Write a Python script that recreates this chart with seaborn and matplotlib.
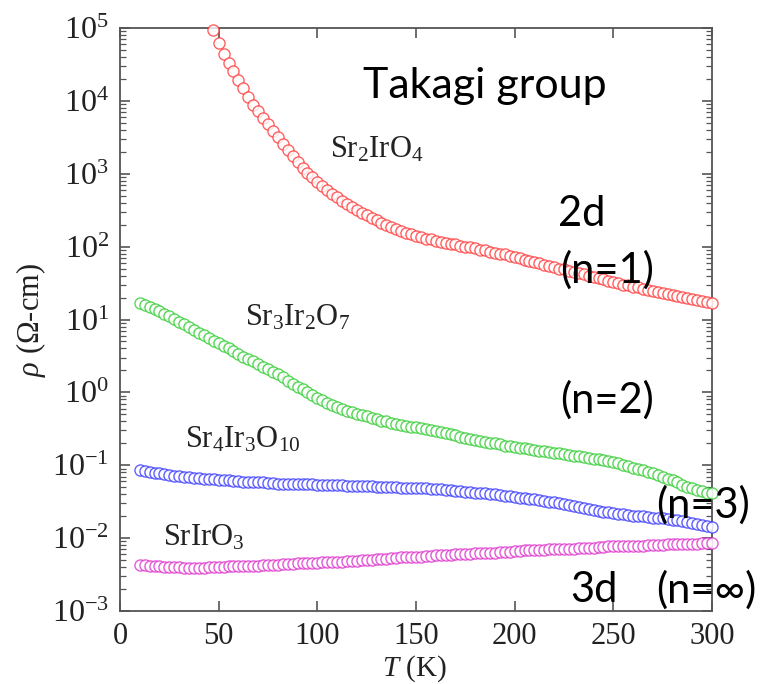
import matplotlib
matplotlib.use("Agg")
import matplotlib.pyplot as plt
import matplotlib.ticker as mticker
import seaborn as sns
import pandas as pd

# ---------------- data ----------------
T_red = [47,
         50, 52.5, 55, 57.5, 60, 62.5, 65, 67.5, 70, 72.5,
         75, 77.5, 80, 82.5, 85, 87.5, 90, 92.5, 95, 97.5,
         100, 102.5, 105, 107.5, 110, 112.5, 115, 117.5, 120, 122.5,
         125, 127.5, 130, 132.5, 135, 137.5, 140, 142.5, 145, 147.5,
         150, 152.5, 155, 157.5, 160, 162.5, 165, 167.5, 170, 172.5,
         175, 177.5, 180, 182.5, 185, 187.5, 190, 192.5, 195, 197.5,
         200, 202.5, 205, 207.5, 210, 212.5, 215, 217.5, 220, 222.5,
         225, 227.5, 230, 232.5, 235, 237.5, 240, 242.5, 245, 247.5,
         250, 252.5, 255, 257.5, 260, 262.5, 265, 267.5, 270, 272.5,
         275, 277.5, 280, 282.5, 285, 287.5, 290, 292.5, 295, 297.5,
         300]
rho_Sr2IrO4 = [9.3e4,
               6.2e4, 4.4e4, 3.3e4, 2.6e4, 1.95e4, 1.48e4, 1.12e4, 8.9e3, 7.2e3, 5.9e3,
               4.8e3, 3.9e3, 3.2e3, 2.57e3, 2.1e3, 1.74e3, 1.45e3, 1.2e3, 1.02e3, 890,
               780, 675, 590, 525, 480, 427, 390, 347, 316, 288,
               270, 245, 229, 214, 200, 186, 174, 162, 155, 148,
               141, 135, 129, 126, 120, 115, 112, 110, 107, 102,
               100, 98, 95, 91, 89, 85, 83, 79, 78, 74,
               72, 69, 66, 63, 62, 59, 56, 55, 52, 50,
               49, 47, 45, 43, 42, 40, 38, 37, 35.5, 33.9,
               32.4, 31.6, 30.2, 29.5, 28.2, 27.5, 26.3, 25.7, 24.5, 24.0,
               23.4, 22.4, 21.9, 20.9, 20.4, 20.0, 19.1, 18.6, 17.8, 17.4,
               16.6]

T_low = [10, 12.5, 15, 17.5, 20, 22.5, 25, 27.5, 30, 32.5,
         35, 37.5, 40, 42.5, 45, 47.5, 50, 52.5, 55, 57.5,
         60, 62.5, 65, 67.5, 70, 72.5, 75, 77.5, 80, 82.5,
         85, 87.5, 90, 92.5, 95, 97.5, 100, 102.5, 105, 107.5,
         110, 112.5, 115, 117.5, 120, 122.5, 125, 127.5, 130, 132.5,
         135, 137.5, 140, 142.5, 145, 147.5, 150, 152.5, 155, 157.5,
         160, 162.5, 165, 167.5, 170, 172.5, 175, 177.5, 180, 182.5,
         185, 187.5, 190, 192.5, 195, 197.5, 200, 202.5, 205, 207.5,
         210, 212.5, 215, 217.5, 220, 222.5, 225, 227.5, 230, 232.5,
         235, 237.5, 240, 242.5, 245, 247.5, 250, 252.5, 255, 257.5,
         260, 262.5, 265, 267.5, 270, 272.5, 275, 277.5, 280, 282.5,
         285, 287.5, 290, 292.5, 295, 297.5, 300]
rho_Sr3Ir2O7 = [17.0, 15.8, 14.8, 13.8, 12.9, 11.9, 11.0, 10.1, 9.3, 8.6,
                7.9, 7.2, 6.6, 6.1, 5.6, 5.1, 4.7, 4.3, 4.0, 3.7,
                3.4, 3.1, 2.9, 2.66, 2.45, 2.26, 2.1, 1.93, 1.78, 1.6,
                1.45, 1.32, 1.2, 1.1, 1.0, 0.92, 0.85, 0.785, 0.72, 0.68,
                0.63, 0.595, 0.56, 0.535, 0.51, 0.49, 0.47, 0.447, 0.43, 0.41,
                0.40, 0.385, 0.37, 0.36, 0.35, 0.34, 0.33, 0.323, 0.316, 0.305,
                0.295, 0.285, 0.275, 0.266, 0.257, 0.248, 0.24, 0.232, 0.224, 0.216,
                0.209, 0.204, 0.2, 0.193, 0.186, 0.182, 0.178, 0.174, 0.17, 0.166,
                0.162, 0.158, 0.155, 0.151, 0.148, 0.145, 0.141, 0.138, 0.135, 0.132,
                0.129, 0.126, 0.123, 0.12, 0.117, 0.114, 0.11, 0.106, 0.102, 0.098,
                0.093, 0.089, 0.085, 0.081, 0.078, 0.073, 0.069, 0.065, 0.062, 0.058,
                0.054, 0.051, 0.048, 0.046, 0.044, 0.042, 0.041]
rho_Sr4Ir3O10 = [0.087, 0.084, 0.081, 0.079, 0.078, 0.076, 0.074, 0.072, 0.071, 0.070,
                 0.069, 0.067, 0.066, 0.0655, 0.065, 0.064, 0.063, 0.0625, 0.062, 0.061,
                 0.060, 0.0595, 0.059, 0.059, 0.059, 0.058, 0.0575, 0.057, 0.056, 0.056,
                 0.056, 0.0555, 0.055, 0.055, 0.055, 0.0545, 0.054, 0.054, 0.054, 0.054,
                 0.054, 0.053, 0.0525, 0.0525, 0.0525, 0.0525, 0.0525, 0.052, 0.051, 0.051,
                 0.051, 0.0505, 0.050, 0.0495, 0.049, 0.049, 0.049, 0.0485, 0.048, 0.0475,
                 0.047, 0.0465, 0.046, 0.0455, 0.045, 0.044, 0.043, 0.0425, 0.042, 0.0415,
                 0.041, 0.0405, 0.040, 0.039, 0.038, 0.0375, 0.037, 0.036, 0.0355, 0.0347,
                 0.034, 0.033, 0.032, 0.0315, 0.031, 0.030, 0.0295, 0.0288, 0.028, 0.027,
                 0.026, 0.0252, 0.0245, 0.0238, 0.023, 0.0225, 0.022, 0.0217, 0.0214, 0.0209,
                 0.0204, 0.0202, 0.020, 0.0195, 0.019, 0.0188, 0.0186, 0.0183, 0.018, 0.0177,
                 0.0174, 0.0168, 0.0162, 0.0157, 0.0151, 0.0146, 0.0141]
rho_SrIrO3 = [0.0043, 0.00425, 0.0042, 0.00415, 0.0041, 0.00405, 0.0040, 0.0040, 0.0040, 0.00395,
              0.0039, 0.0039, 0.0039, 0.00395, 0.0040, 0.0040, 0.0040, 0.00405, 0.0041, 0.0041,
              0.0041, 0.00415, 0.0042, 0.0042, 0.0042, 0.00425, 0.0043, 0.0043, 0.0043, 0.00435,
              0.0044, 0.00445, 0.0045, 0.0045, 0.0045, 0.00455, 0.0046, 0.00465, 0.0047, 0.0047,
              0.0047, 0.00475, 0.0048, 0.00485, 0.0049, 0.00495, 0.0050, 0.00505, 0.0051, 0.00515,
              0.0052, 0.0053, 0.0054, 0.00545, 0.0055, 0.0055, 0.0055, 0.00555, 0.0056, 0.0057,
              0.0058, 0.00585, 0.0059, 0.00595, 0.0060, 0.0060, 0.0060, 0.0061, 0.0062, 0.00625,
              0.0063, 0.0063, 0.0063, 0.0064, 0.0065, 0.00655, 0.0066, 0.0067, 0.0068, 0.0068,
              0.0068, 0.00685, 0.0069, 0.0070, 0.0071, 0.0071, 0.0071, 0.00715, 0.0072, 0.0073,
              0.0074, 0.0074, 0.0074, 0.0075, 0.0076, 0.0077, 0.0078, 0.0078, 0.0078, 0.00785,
              0.0079, 0.0079, 0.0079, 0.0080, 0.0081, 0.0081, 0.0081, 0.0082, 0.0083, 0.0083,
              0.0083, 0.0083, 0.0083, 0.0084, 0.0085, 0.0085, 0.0085]

series_names = ["Sr2IrO4", "Sr3Ir2O7", "Sr4Ir3O10", "SrIrO3"]
series_T = [T_red, T_low, T_low, T_low]
series_rho = [rho_Sr2IrO4, rho_Sr3Ir2O7, rho_Sr4Ir3O10, rho_SrIrO3]
series_colors = ["#ff3b3b", "#33cc33", "#3a3aff", "#dd33cc"]

x_ticks = [0, 50, 100, 150, 200, 250, 300]

# ---------------- style ----------------
sns.set_theme(style="ticks")
plt.rcParams["font.family"] = ["Liberation Serif", "DejaVu Serif"]
plt.rcParams["mathtext.fontset"] = "custom"
plt.rcParams["mathtext.rm"] = "Liberation Serif"
plt.rcParams["mathtext.it"] = "Liberation Serif:italic"
plt.rcParams["mathtext.bf"] = "Liberation Serif:bold"

fig = plt.figure(figsize=(7.82, 6.84), dpi=100)
ax = fig.add_axes([120 / 782, 1 - 611 / 684, 592 / 782, 583 / 684])

for name, T, rho, col in zip(series_names, series_T, series_rho, series_colors):
    n = min(len(T), len(rho))
    df = pd.DataFrame({"T": T[:n], "rho": rho[:n]})
    sns.scatterplot(data=df, x="T", y="rho", ax=ax, marker="o", s=64,
                    color=col, facecolor="white", edgecolor=col, linewidth=1.0,
                    alpha=0.8, legend=False, zorder=3, clip_on=False)

ax.set_yscale("log")
ax.set_ylim(1e-3, 1e5)
ax.set_xlim(0, 300)
ax.set_xticks(x_ticks)
ax.yaxis.set_major_locator(mticker.LogLocator(base=10, numticks=20))
ax.yaxis.set_minor_locator(mticker.LogLocator(base=10, subs=range(2, 10), numticks=20))
ax.yaxis.set_minor_formatter(mticker.NullFormatter())

ax.tick_params(axis="both", which="major", direction="in", top=True, right=True,
               length=7, width=1.2, color="#555555", labelcolor="#222222")
ax.tick_params(axis="x", which="major", labelsize=22, pad=8)
ax.tick_params(axis="y", which="major", labelsize=23, pad=8)
ax.tick_params(axis="y", which="minor", direction="in", left=True, right=True,
               length=4, width=0.9, color="#555555")
for sp in ax.spines.values():
    sp.set_color("#555555")
    sp.set_linewidth(1.3)

ax.set_xlabel(r"$T$ (K)", fontsize=21, color="#222222")
ax.set_ylabel(r"$\rho$ (Ω-cm)", fontsize=22, color="#222222")
ax.xaxis.set_label_coords(0.498, -0.072)
ax.yaxis.set_label_coords(-0.122, 0.50)

# ---------------- annotations ----------------
def ftxt(x, y, s, **kw):
    fig.text(x / 782, 1 - y / 684, s, ha="left", va="center", **kw)

sans = ["Lato", "DejaVu Sans"]
ftxt(363, 86, "Takagi group", fontsize=31, family=sans, color="black")
ftxt(330, 150, r"Sr$_2$IrO$_4$", fontsize=22, color="#222222")
ftxt(245, 318, r"Sr$_3$Ir$_2$O$_7$", fontsize=22, color="#222222")
ftxt(185, 440, r"Sr$_4$Ir$_3$O$_{10}$", fontsize=22, color="#222222")
ftxt(163, 538, r"SrIrO$_3$", fontsize=22, color="#222222")

ftxt(558, 214, "2d", fontsize=30, family=sans, color="black")
ftxt(560, 270, "(n=1)", fontsize=30, family=sans, color="black")
ftxt(560, 400, "(n=2)", fontsize=30, family=sans, color="black")
ftxt(656, 505, "(n=3)", fontsize=30, family=sans, color="black")
ftxt(570, 590, "3d", fontsize=30, family=sans, color="black")
ftxt(656, 590, "(n=∞)", fontsize=30, family=sans, color="black")

fig.savefig("out.png", dpi=100)
